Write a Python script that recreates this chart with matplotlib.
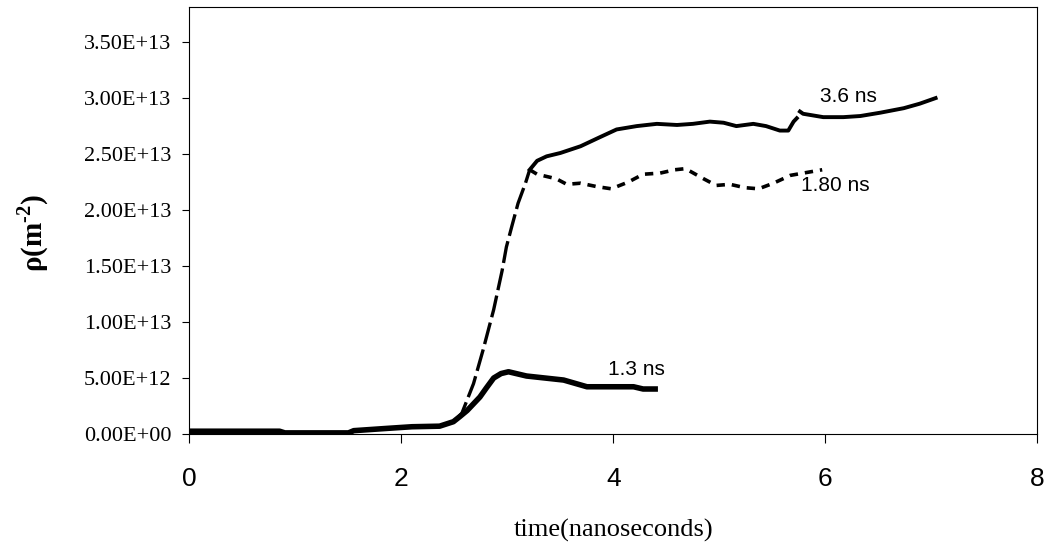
import numpy as np
import matplotlib
matplotlib.use('Agg')
import matplotlib.pyplot as plt
from matplotlib.ticker import FuncFormatter

plt.rcParams['lines.scale_dashes'] = False
plt.rcParams['mathtext.fontset'] = 'custom'
plt.rcParams['mathtext.bf'] = 'Liberation Serif:bold'
plt.rcParams['mathtext.rm'] = 'Liberation Serif:bold'

# data (rho in units of 1e12 m^-2, time in ns)
t_13 = [0, 0.5, 0.85, 0.9, 1.5, 1.55, 1.86, 2.1, 2.36, 2.49, 2.55, 2.62, 2.68, 2.74,
        2.80, 2.87, 2.94, 3.01, 3.18, 3.53, 3.75, 4.19, 4.28, 4.42]
rho_13 = [0.25, 0.25, 0.25, 0.1, 0.1, 0.3, 0.5, 0.65, 0.7, 1.1, 1.55, 2.1, 2.7, 3.3,
          4.1, 5.0, 5.4, 5.56, 5.18, 4.82, 4.22, 4.22, 4.02, 4.02]

# common rise of the longer runs
t_rise = [2.50, 2.57, 2.68, 2.77, 2.87, 2.95, 2.99, 3.04, 3.10, 3.17, 3.21]
rho_rise = [1.2, 1.85, 4.5, 7.5, 11.1, 14.6, 16.7, 18.5, 20.6, 22.4, 23.6]

t_36 = [3.21, 3.28, 3.37, 3.50, 3.69, 3.87, 4.03, 4.22, 4.41, 4.60, 4.75, 4.91, 5.04,
        5.16, 5.32, 5.44, 5.57, 5.65, 5.70, 5.73, 5.745, 5.76, 5.79, 5.98, 6.17, 6.33,
        6.52, 6.74, 6.89, 7.04]
rho_36 = [23.6, 24.4, 24.8, 25.1, 25.7, 26.5, 27.2, 27.5, 27.7, 27.6, 27.7, 27.9, 27.8,
          27.5, 27.7, 27.5, 27.1, 27.1, 27.9, 28.2, np.nan, 28.8, 28.6, 28.3, 28.3, 28.4,
          28.7, 29.1, 29.5, 30.0]

t_18 = [3.21, 3.28, 3.46, 3.56, 3.69, 3.84, 3.98, 4.14, 4.28, 4.44, 4.58, 4.68, 4.85,
        4.97, 5.10, 5.24, 5.37, 5.51, 5.67, 5.79, 5.97]
rho_18 = [23.6, 23.2, 22.8, 22.3, 22.4, 22.1, 21.9, 22.5, 23.2, 23.3, 23.6, 23.7, 22.8,
          22.2, 22.3, 22.0, 21.9, 22.4, 23.1, 23.3, 23.6]

scale = 1e12

fig = plt.figure(figsize=(10.51, 5.48), dpi=100)
ax = fig.add_axes([0.1803, 0.208, 0.8067, 0.779])

ax.plot(np.array(t_13), np.array(rho_13) * scale, color='black', lw=4, solid_capstyle='butt')
ax.plot(np.array(t_rise), np.array(rho_rise) * scale, color='black', lw=2.4,
        dashes=(16, 4))
ax.plot(np.array(t_36), np.array(rho_36) * scale, color='black', lw=2.8)
ax.plot(np.array(t_18), np.array(rho_18) * scale, color='black', lw=2.6, dashes=(6, 5))

ax.text(4.22, 5.8e12, '1.3 ns', fontsize=15, family='Liberation Sans', ha='center', va='center')
ax.text(6.22, 30.1e12, '3.6 ns', fontsize=15, family='Liberation Sans', ha='center', va='center')
ax.text(6.09, 22.2e12, '1.80 ns', fontsize=15, family='Liberation Sans', ha='center', va='center')

ax.set_xlim(0, 8)
ax.set_ylim(0, 3.8125e13)
ax.set_xticks([0, 2, 4, 6, 8])
ax.set_yticks(np.arange(0, 3.6e13, 5e12))
ax.yaxis.set_major_formatter(FuncFormatter(lambda v, p: '{:.2E}'.format(v)))

for lab in ax.get_yticklabels():
    lab.set_family('Liberation Serif')
    lab.set_fontsize(16)
for lab in ax.get_xticklabels():
    lab.set_family('Liberation Sans')
    lab.set_fontsize(19)

ax.tick_params(axis='y', direction='out', length=5, width=0.8, pad=8)
ax.tick_params(axis='x', direction='out', length=6.5, width=0.8, pad=17)
for s in ax.spines.values():
    s.set_linewidth(0.8)

ax.set_xlabel('time(nanoseconds)', fontsize=19, family='Liberation Serif', va='center')
ax.xaxis.set_label_coords(0.5, -0.2248)
ax.set_ylabel(r'ρ(m$^{\text{-2}}$)', fontsize=21, family='Liberation Serif', fontweight='bold',
              va='center')
ax.yaxis.set_label_coords(-0.1846, 0.47)

plt.savefig('out.png', dpi=100)
